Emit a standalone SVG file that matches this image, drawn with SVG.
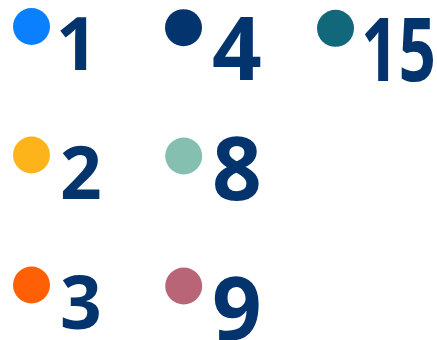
<svg xmlns="http://www.w3.org/2000/svg" width="437" height="340" viewBox="0 0 437 340">
<style>
.t{font-family:"Noto Sans","Open Sans","DejaVu Sans",sans-serif;font-weight:700;fill:#03346E}
.s{font-size:73px}
.l{font-size:87px}
</style>
<rect width="437" height="340" fill="#ffffff"/>
<g id="item-1"><circle cx="31.5" cy="26.5" r="18.5" fill="#0A80FF"/><text class="t s" x="56" y="70">1</text></g>
<g id="item-2"><circle cx="31.5" cy="155" r="18.5" fill="#FDB31A"/><text class="t s" x="60" y="199">2</text></g>
<g id="item-3"><circle cx="31.5" cy="285" r="18.5" fill="#FF5F05"/><text class="t s" x="60" y="329">3</text></g>
<g id="item-4"><circle cx="183.5" cy="27.7" r="18.5" fill="#03346E"/><text class="t l" x="212" y="80">4</text></g>
<g id="item-8"><circle cx="183.7" cy="156" r="18.5" fill="#85BFB0"/><text class="t l" x="212" y="200">8</text></g>
<g id="item-9"><circle cx="183.7" cy="286" r="18.5" fill="#B86577"/><text class="t l" x="212" y="340">9</text></g>
<g id="item-15"><circle cx="335.5" cy="28.3" r="18.5" fill="#10687A"/><text class="t l" x="361" y="81" textLength="75" lengthAdjust="spacingAndGlyphs">15</text></g>
<g id="connectors"/>
</svg>
